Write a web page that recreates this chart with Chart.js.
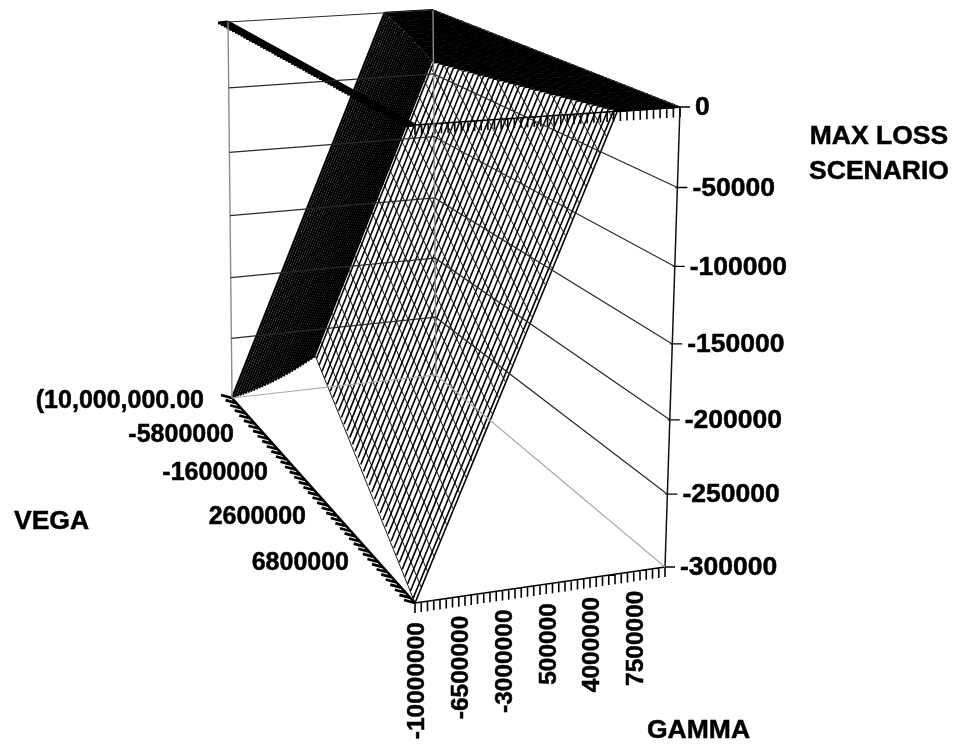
<!DOCTYPE html>
<html><head><meta charset="utf-8">
<style>html,body{margin:0;padding:0;background:#fff}canvas{display:block}</style>
<script src="https://cdn.jsdelivr.net/npm/chart.js@4"></script>
</head><body><canvas id="c" width="953" height="744"></canvas>
<script>
// ---- chart values ----
const gammaTickLabels=["-10000000","-6500000","-3000000","500000","4000000","7500000"];
const gammaTickValues=[-10000000,-6500000,-3000000,500000,4000000,7500000];
const vegaTickLabels=["(10,000,000.00","-5800000","-1600000","2600000","6800000"];
const zTickValues=[0,-50000,-100000,-150000,-200000,-250000,-300000];

// constant-vega mesh lines
const vegaLevels=[-10000000,-9700000,-9400000,-9100000,-8800000,-8500000,-8200000,-7900000,-7600000,-7300000,-7000000,-6700000,-6400000,-6100000,-5800000,-5500000,-5200000,-4900000,-4600000,-4300000,-4000000,-3700000,-3400000,-3100000,-2800000,-2500000,-2200000,-1900000,-1600000,-1300000,-1000000,-700000,-400000,-100000,200000,500000,800000,1100000,1400000,1700000,2000000,2300000,2600000,2900000,3200000,3500000,3800000,4100000,4400000,4700000,5000000,5300000,5600000,5900000,6200000,6500000,6800000,7100000,7400000,7700000,8000000,8300000,8600000,8900000,9200000,9500000,9800000,10000000];
const lossAtLowestGamma=[-300000,-296700,-293400,-290200,-286900,-283600,-280300,-277100,-273800,-270500,-267200,-264000,-260700,-257400,-254100,-250900,-247600,-244300,-241000,-237800,-234500,-231200,-227900,-224700,-221400,-218100,-214800,-211500,-208300,-205000,-201700,-200500,-203300,-206100,-208900,-211700,-214400,-217200,-220000,-222800,-225600,-228400,-231200,-234000,-236800,-239600,-242300,-245100,-247900,-250700,-253500,-256300,-259100,-261900,-264700,-267500,-270200,-273000,-275800,-278600,-281400,-284200,-287000,-289800,-292600,-295400,-298100,-300000];
const gammaWhereLossEndsByVega=[5270000,5100000,4930000,4770000,4600000,4430000,4270000,4100000,3930000,3770000,3600000,3430000,3270000,3100000,2930000,2770000,2600000,2430000,2270000,2100000,1930000,1770000,1600000,1430000,1270000,1100000,930000,770000,600000,430000,270000,200000,350000,490000,630000,770000,910000,1060000,1200000,1340000,1480000,1620000,1770000,1910000,2050000,2190000,2330000,2480000,2620000,2760000,2900000,3040000,3190000,3330000,3470000,3610000,3750000,3900000,4040000,4180000,4320000,4460000,4610000,4750000,4890000,5030000,5170000,5270000];

// constant-gamma mesh lines
const gammaLevels=[-10000000,-9500000,-9000000,-8500000,-8000000,-7500000,-7000000,-6500000,-6000000,-5500000,-5000000,-4500000,-4000000,-3500000,-3000000,-2500000,-2000000,-1500000,-1000000,-500000,0,500000,1000000,1500000,2000000,2500000,3000000,3500000,4000000,4500000,5000000,5500000,6000000,6500000,7000000,7500000,8000000,8500000,9000000,9500000,10000000];
const lossAtVegaEdges=[-300000,-290200,-280400,-270500,-260700,-250900,-241000,-231200,-221400,-211600,-201800,-191900,-182100,-172300,-162500,-152600,-142800,-133000,-123200,-113300,-103500,-93700,-83800,-74000,-64200,-54400,-44500,-34700,-24900,-15100,-5300,0,0,0,0,0,0,0,0,0,0];
const lossAtVegaRidge=[-199500,-189700,-179900,-170000,-160200,-150400,-140500,-130700,-120900,-111100,-101300,-91400,-81600,-71800,-62000,-52100,-42300,-32500,-22700,-12800,-3000,0,0,0,0,0,0,0,0,0,0,0,0,0,0,0,0,0,0,0,0];
const ridgeVega=-800000;
const zeroLossVegaLow=[null,null,null,null,null,null,null,null,null,null,null,null,null,null,null,null,null,null,null,null,null,-1420000,-2322000,-3222000,-4120000,-5020000,-5926000,-6822000,-7720000,-8618000,-9514000,null,null,null,null,null,null,null,null,null,null];
const zeroLossVegaHigh=[null,null,null,null,null,null,null,null,null,null,null,null,null,null,null,null,null,null,null,null,null,-74000,984000,2042000,3096000,4152000,5216000,6268000,7322000,8378000,9430000,null,null,null,null,null,null,null,null,null,null];
const vegaAxisTicks=[-10000000,-9500000,-9000000,-8500000,-8000000,-7500000,-7000000,-6500000,-6000000,-5500000,-5000000,-4500000,-4000000,-3500000,-3000000,-2500000,-2000000,-1500000,-1000000,-500000,0,500000,1000000,1500000,2000000,2500000,3000000,3500000,4000000,4500000,5000000,5500000,6000000,6500000,7000000,7500000,8000000,8500000,9000000,9500000,10000000];

// ---- oblique view of the box (camera, not data) ----
const GMIN=-10000000,GMAX=10000000,VMIN=-10000000,VMAX=10000000,ZMIN=-300000,ZMAX=0;
const floorQuad={a:[232,398],b:[436,375],c:[415,603],d:[665,567]};
const topQuad={a:[228,22],b:[433,10],c:[415,125],d:[680,107]};
function project(g,v,z){
  const u=(g-GMIN)/(GMAX-GMIN),s=(v-VMIN)/(VMAX-VMIN);
  let h=(z-ZMIN)/(ZMAX-ZMIN);h=h-0.06*h*(1-h);
  const bil=(q,i)=>(q.a[i]*(1-u)+q.b[i]*u)*(1-s)+(q.c[i]*(1-u)+q.d[i]*u)*s;
  return {x:bil(floorQuad,0)*(1-h)+bil(topQuad,0)*h,y:bil(floorQuad,1)*(1-h)+bil(topQuad,1)*h};
}
const GAP={x:NaN,y:NaN};
const datasets=[];
function addLine(pts,color,w){datasets.push({data:pts,borderColor:color,borderWidth:w,showLine:true,pointRadius:0,fill:false,tension:0,spanGaps:false,clip:false});}

// walls and floor
const wallPts=[];
zTickValues.slice(0,6).forEach(z=>{wallPts.push(project(GMIN,VMIN,z),project(GMAX,VMIN,z),project(GMAX,VMAX,z),GAP);});
addLine(wallPts,"#2a2a2a",1.2);
addLine([project(GMIN,VMIN,ZMAX),project(GMIN,VMIN,ZMIN),GAP,project(GMAX,VMIN,ZMAX),project(GMAX,VMIN,ZMIN)],"#8c8c8c",1.4);
addLine([project(GMIN,VMIN,ZMIN),project(GMAX,VMIN,ZMIN),project(GMAX,VMAX,ZMIN)],"#ababab",1.2);
addLine([project(GMAX,VMAX,ZMAX),project(GMAX,VMAX,ZMIN)],"#111",1.5);

// surface mesh
vegaLevels.forEach((v,i)=>{
  addLine([project(GMIN,v,lossAtLowestGamma[i]),project(gammaWhereLossEndsByVega[i],v,0)],"#000",v<ridgeVega?2.2:1.6);
  addLine([project(gammaWhereLossEndsByVega[i],v,0),project(GMAX,v,0)],"#000",2.2);
});
gammaLevels.forEach((g,j)=>{
  const pts=[project(g,VMIN,lossAtVegaEdges[j])];
  if(zeroLossVegaLow[j]!==null)pts.push(project(g,zeroLossVegaLow[j],0));
  pts.push(project(g,ridgeVega,lossAtVegaRidge[j]));
  if(zeroLossVegaHigh[j]!==null)pts.push(project(g,zeroLossVegaHigh[j],0));
  pts.push(project(g,VMAX,lossAtVegaEdges[j]));
  addLine(pts,"#000",0.9);
});

// axes with tick marks
function offset(p,dx,dy){return {x:p.x+dx,y:p.y+dy};}
[ZMIN,ZMAX].forEach(z=>{
  const gt=[project(GMIN,VMAX,z),project(GMAX,VMAX,z),GAP];
  gammaLevels.forEach(g=>{const p=project(g,VMAX,z);gt.push(p,offset(p,0,10),GAP);});
  addLine(gt,"#000",1.6);
  const vegaTicks=z===ZMAX?vegaLevels:vegaAxisTicks;
  const vt=[project(GMIN,VMIN,z),project(GMIN,VMAX,z),GAP];
  vegaTicks.forEach(v=>{const p=project(GMIN,v,z);vt.push(p,z===ZMAX?offset(p,-10,1):offset(p,-11,-3),GAP);});
  addLine(vt,"#000",z===ZMAX?3:2.6);
});
const zt=[];
zTickValues.forEach(z=>{const p=project(GMAX,VMAX,z);zt.push(offset(p,-2,0),offset(p,10,0),GAP);});
addLine(zt,"#000",1.3);

// ---- text ----
const SANS='"Liberation Sans",Arial,sans-serif';
const FONT_Z='bold 26.5px '+SANS,FONT_V='bold 25px '+SANS,FONT_G='bold 24.5px '+SANS,TITLE='bold 26.5px '+SANS;
const textPlugin={id:"texts",afterDraw(chart){
  const c=chart.ctx,X=chart.scales.x,Y=chart.scales.y;
  const ink=(t,x,y)=>{c.fillStyle="#000";c.strokeStyle="#000";c.lineWidth=0.5;c.fillText(t,x,y);c.strokeText(t,x,y);};
  const put=(t,x,y,al,f)=>{c.font=f;c.textAlign=al;c.textBaseline="middle";ink(t,X.getPixelForValue(x),Y.getPixelForValue(y));};
  c.save();
  zTickValues.forEach(z=>{const p=project(GMAX,VMAX,z);put(String(z),p.x+15,p.y+1,"left",FONT_Z);});
  const vegaLabelAt=[[204,401],[234,435],[268,473],[306,517],[349,563]];
  vegaTickLabels.forEach((t,i)=>put(t,vegaLabelAt[i][0],vegaLabelAt[i][1],"right",FONT_V));
  gammaTickLabels.forEach((t,i)=>{
    const p=project(gammaTickValues[i],VMAX,ZMIN);
    c.save();c.translate(X.getPixelForValue(p.x+2.5),Y.getPixelForValue(p.y+19));c.rotate(-Math.PI/2);
    c.font=FONT_G;c.textAlign="right";c.textBaseline="middle";ink(t,0,0);c.restore();
  });
  put("MAX LOSS",879,137,"center",TITLE);
  put("SCENARIO",879,172,"center",TITLE);
  put("VEGA",14,522,"left",TITLE);
  put("GAMMA",647,731,"left",TITLE);
  c.restore();
}};
new Chart(document.getElementById("c"),{type:"scatter",data:{datasets},plugins:[textPlugin],options:{
  responsive:false,animation:false,events:[],layout:{padding:0},
  plugins:{legend:{display:false},tooltip:{enabled:false},title:{display:false}},
  scales:{x:{type:"linear",display:false,min:0,max:953},y:{type:"linear",display:false,min:0,max:744,reverse:true}}
}});
</script></body></html>
